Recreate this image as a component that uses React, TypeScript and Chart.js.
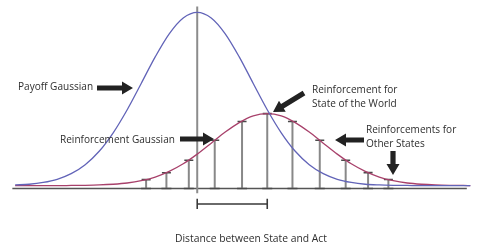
import { useEffect, useRef } from "react";
import { Chart, registerables } from "chart.js";

Chart.register(...registerables);

// x: distance units (act at 0, state of the world at 1); y: height relative to payoff peak
const curveX = [-2.6, -2.4, -2.2, -2.0, -1.8, -1.6, -1.4, -1.2, -1.0, -0.8, -0.6, -0.4, -0.2, 0, 0.2, 0.4, 0.6, 0.8, 1.0, 1.2, 1.4, 1.6, 1.8, 2.0, 2.2, 2.4, 2.6, 2.8, 3.0, 3.2, 3.4, 3.6, 3.8, 3.9];
const payoffGaussian = [0.020, 0.024, 0.034, 0.052, 0.084, 0.135, 0.211, 0.316, 0.447, 0.596, 0.747, 0.878, 0.968, 1.000, 0.968, 0.878, 0.747, 0.596, 0.447, 0.316, 0.211, 0.135, 0.084, 0.052, 0.034, 0.024, 0.020, 0.018, 0.017, 0.016, 0.016, 0.016, 0.016, 0.016];
const reinforcementGaussian = [0.016, 0.016, 0.016, 0.016, 0.017, 0.018, 0.020, 0.024, 0.031, 0.044, 0.065, 0.097, 0.140, 0.195, 0.257, 0.320, 0.374, 0.412, 0.425, 0.412, 0.374, 0.320, 0.257, 0.195, 0.140, 0.097, 0.065, 0.044, 0.031, 0.024, 0.020, 0.018, 0.017, 0.016];
const barX = [-0.73, -0.44, -0.12, 0.25, 0.64, 1.0, 1.36, 1.75, 2.12, 2.44, 2.73];
const barHeights = [0.050, 0.089, 0.160, 0.274, 0.380, 0.425, 0.380, 0.274, 0.160, 0.090, 0.051];
const actX = 0;
const stateX = 1;
const axisRange = [-2.64, 3.85];
const centerLineRange = [-0.027, 1.04];
const bracketY = -0.088;
const bracketTick = 0.029;

const xLabel = "Distance between State and Act";
const labelPayoff = "Payoff Gaussian";
const labelReinf = "Reinforcement Gaussian";
const labelState = ["Reinforcement for", "State of the World"];
const labelOthers = ["Reinforcements for", "Other States"];

const pts = (xs: number[], ys: number[]) => xs.map((x, i) => ({ x, y: ys[i] }));

function drawArrow(ctx: CanvasRenderingContext2D, x1: number, y1: number, x2: number, y2: number) {
  const dx = x2 - x1, dy = y2 - y1;
  const len = Math.hypot(dx, dy);
  const ux = dx / len, uy = dy / len;
  const nx = -uy, ny = ux;
  const headLen = 11, headW = 6.5, shaftW = 2.6;
  const bx = x2 - ux * headLen, by = y2 - uy * headLen;
  ctx.beginPath();
  ctx.moveTo(x1 + nx * shaftW, y1 + ny * shaftW);
  ctx.lineTo(bx + nx * shaftW, by + ny * shaftW);
  ctx.lineTo(bx + nx * headW, by + ny * headW);
  ctx.lineTo(x2, y2);
  ctx.lineTo(bx - nx * headW, by - ny * headW);
  ctx.lineTo(bx - nx * shaftW, by - ny * shaftW);
  ctx.lineTo(x1 - nx * shaftW, y1 - ny * shaftW);
  ctx.closePath();
  ctx.fill();
}

const annotations = {
  id: "annotations",
  afterDatasetsDraw(chart: any) {
    const ctx: CanvasRenderingContext2D = chart.ctx;
    ctx.save();
    ctx.fillStyle = "#2e2e2e";
    ctx.textBaseline = "middle";
    ctx.textAlign = "left";
    ctx.font = "11px 'Open Sans'";
    const w = ctx.measureText(labelReinf).width;
    const fs = 11 * 115 / w;
    ctx.font = `${fs.toFixed(2)}px 'Open Sans'`;
    ctx.fillText(labelPayoff, 18, 87);
    ctx.fillText(labelReinf, 60, 140);
    ctx.fillText(labelState[0], 312, 90);
    ctx.fillText(labelState[1], 312, 104);
    ctx.fillText(labelOthers[0], 366, 130);
    ctx.fillText(labelOthers[1], 366, 144);
    ctx.font = "10px 'Open Sans'";
    const w2 = ctx.measureText(xLabel).width;
    const fs2 = 10 * 152 / w2;
    ctx.font = `${fs2.toFixed(2)}px 'Open Sans'`;
    ctx.fillText(xLabel, 175, 239);
    ctx.fillStyle = "#222";
    drawArrow(ctx, 97, 88, 133, 88);
    drawArrow(ctx, 180, 139, 214, 139);
    drawArrow(ctx, 304, 93, 273, 112);
    drawArrow(ctx, 364, 140, 335, 140);
    drawArrow(ctx, 393, 151, 393, 175);
    ctx.restore();
  },
};

export default function App() {
  const ref = useRef<HTMLCanvasElement>(null);
  useEffect(() => {
    document.body.style.margin = "0";
    const stems: any[] = [];
    barX.forEach((x, i) => {
      stems.push({ x, y: 0 }, { x, y: barHeights[i] }, { x, y: null });
    });
    const bracket: any[] = [
      { x: actX, y: bracketY - bracketTick }, { x: actX, y: bracketY + bracketTick }, { x: actX, y: null },
      { x: actX, y: bracketY }, { x: stateX, y: bracketY }, { x: stateX, y: null },
      { x: stateX, y: bracketY - bracketTick }, { x: stateX, y: bracketY + bracketTick },
    ];
    const chart = new Chart(ref.current!, {
      type: "scatter",
      data: {
        datasets: [
          {
            label: "Payoff Gaussian",
            data: pts(curveX, payoffGaussian),
            showLine: true,
            borderColor: "#6264b8",
            borderWidth: 1.3,
            pointRadius: 0,
            cubicInterpolationMode: "monotone",
            order: 1,
          },
          {
            label: "Reinforcement Gaussian",
            data: pts(curveX, reinforcementGaussian),
            showLine: true,
            borderColor: "#a8416b",
            borderWidth: 1.3,
            pointRadius: 0,
            cubicInterpolationMode: "monotone",
            order: 2,
          },
          {
            label: "caps top",
            data: pts(barX, barHeights),
            pointStyle: "line",
            pointRadius: 4.5,
            borderColor: "#4a4a4a",
            pointBorderColor: "#4a4a4a",
            pointBorderWidth: 1.6,
            order: 3,
          },
          {
            label: "caps bottom",
            data: barX.map((x) => ({ x, y: 0 })),
            pointStyle: "line",
            pointRadius: 5,
            borderColor: "#4a4a4a",
            pointBorderColor: "#4a4a4a",
            pointBorderWidth: 1.6,
            order: 3,
          },
          {
            label: "stems",
            data: stems,
            showLine: true,
            spanGaps: false,
            borderColor: "#888",
            borderWidth: 2,
            pointRadius: 0,
            order: 4,
          },
          {
            label: "center",
            data: [{ x: actX, y: centerLineRange[0] }, { x: actX, y: centerLineRange[1] }],
            showLine: true,
            borderColor: "#8c8c8c",
            borderWidth: 2,
            pointRadius: 0,
            order: 5,
          },
          {
            label: "axis",
            data: [{ x: axisRange[0], y: 0 }, { x: axisRange[1], y: 0 }],
            showLine: true,
            borderColor: "#555",
            borderWidth: 1.6,
            pointRadius: 0,
            order: 6,
          },
          {
            label: "bracket",
            data: bracket,
            showLine: true,
            spanGaps: false,
            borderColor: "#3a3a3a",
            borderWidth: 1.6,
            pointRadius: 0,
            order: 6,
          },
        ] as any,
      },
      options: {
        animation: false,
        responsive: false,
        layout: { padding: 0 },
        plugins: { legend: { display: false }, tooltip: { enabled: false } },
        scales: {
          x: { type: "linear", display: false, min: -196 / 72, max: 285 / 72 },
          y: { type: "linear", display: false, min: -58 / 186, max: 192 / 186 },
        },
        elements: { line: { tension: 0 } },
      } as any,
      plugins: [annotations],
    });
    return () => chart.destroy();
  }, []);
  return (
    <div style={{ width: 481, height: 250, position: "relative", background: "#fff" }}>
      <canvas ref={ref} width={481} height={250} style={{ display: "block" }} />
    </div>
  );
}
